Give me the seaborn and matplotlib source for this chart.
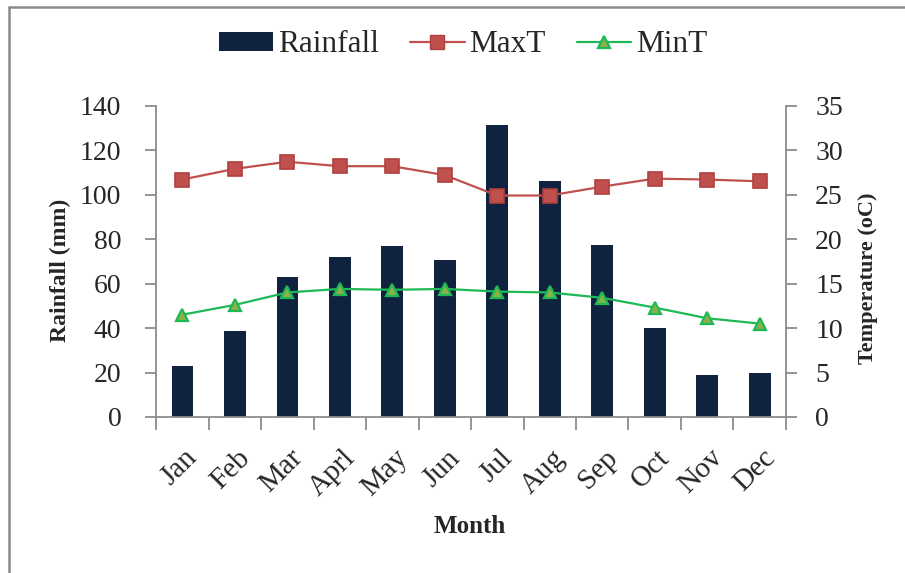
import matplotlib
matplotlib.use("Agg")
import matplotlib.pyplot as plt
import matplotlib.transforms as mtransforms
from matplotlib.patches import Patch
from matplotlib.lines import Line2D
import seaborn as sns
import pandas as pd
import numpy as np

months = ["Jan", "Feb", "Mar", "Aprl", "May", "Jun", "Jul", "Aug", "Sep", "Oct", "Nov", "Dec"]
rainfall = [22.8, 38.8, 62.8, 72.0, 77.0, 70.5, 131.3, 106.2, 77.5, 40.0, 19.0, 20.0]
max_t = [26.7, 27.9, 28.7, 28.2, 28.2, 27.2, 24.9, 24.9, 25.9, 26.8, 26.7, 26.5]
min_t = [11.5, 12.6, 14.0, 14.4, 14.3, 14.4, 14.1, 14.0, 13.4, 12.3, 11.1, 10.5]
rain_ticks = [0, 20, 40, 60, 80, 100, 120, 140]
temp_ticks = [0, 5, 10, 15, 20, 25, 30, 35]

df = pd.DataFrame({"Month": months, "Rainfall": rainfall, "MaxT": max_t, "MinT": min_t})

sns.set_theme(style="white")
plt.rcParams["font.family"] = ["Liberation Serif", "DejaVu Serif"]

BAR = "#0F2341"
RED = "#C0504D"
GREEN = "#1DB954"
OLIVE = "#8DB04A"
GRAY = "#8C8C8C"

fig = plt.figure(figsize=(9.05, 5.73), dpi=100)
ax = fig.add_axes([0.1724, 0.2723, 0.6961, 0.5432])

sns.barplot(data=df, x="Month", y="Rainfall", ax=ax, color=BAR, width=0.41,
            saturation=1, edgecolor="none", zorder=2)

ax2 = ax.twinx()
sns.pointplot(data=df, x="Month", y="MaxT", ax=ax2, color=RED, markers="s",
              linestyles="-", errorbar=None, markersize=10, linewidth=1.6,
              markeredgecolor="#B0403D")
sns.pointplot(data=df, x="Month", y="MinT", ax=ax2, color=GREEN, markers="^",
              linestyles="-", errorbar=None, markersize=9, linewidth=1.6,
              markerfacecolor=OLIVE, markeredgecolor=GREEN, markeredgewidth=1.6)

ax.set_xlim(-0.5, 11.5)
ax.set_ylim(0, 140)
ax2.set_ylim(0, 35)
ax.set_yticks(rain_ticks)
ax2.set_yticks(temp_ticks)
ax.set_yticklabels([str(t) for t in rain_ticks], fontsize=20)
ax2.set_yticklabels([str(t) for t in temp_ticks], fontsize=20)

for a in (ax, ax2):
    a.spines["top"].set_visible(False)
    for s in ("left", "right", "bottom"):
        a.spines[s].set_color(GRAY)
        a.spines[s].set_linewidth(1.3)
    a.grid(False)
ax.spines["right"].set_visible(False)
ax2.spines["left"].set_visible(False)
ax2.spines["bottom"].set_visible(False)

ax.tick_params(axis="y", direction="out", length=8, width=1.3, color=GRAY, pad=17, left=True)
ax2.tick_params(axis="y", direction="out", length=8, width=1.3, color=GRAY, pad=13, right=True)

# x ticks: labels at centers, tick marks at boundaries
ax.set_xticks(range(len(months)))
ax.set_xticklabels(months, fontsize=21, rotation=45, ha="right", rotation_mode="anchor")
ax.set_xticks(np.arange(-0.5, len(months), 1.0), minor=True)
ax.tick_params(axis="x", which="major", length=0, pad=20)
ax.tick_params(axis="x", which="minor", direction="out", length=9, width=1.3, color=GRAY, bottom=True)
ax2.tick_params(axis="x", which="both", length=0)
offset = mtransforms.ScaledTranslation(2 / 100, 0, fig.dpi_scale_trans)
for lbl in ax.get_xticklabels():
    lbl.set_transform(lbl.get_transform() + offset)

ax.set_xlabel("Month", fontsize=18, fontweight="bold")
ax.xaxis.set_label_coords(0.498, -0.353)
ax.xaxis.label.set_va("center")
ax.set_ylabel("Rainfall (mm)", fontsize=17, fontweight="bold")
ax.yaxis.set_label_coords(-0.152, 0.472)
ax.yaxis.label.set_va("center")
ax2.set_ylabel("Temperature (oC)", fontsize=16, fontweight="bold")
ax2.yaxis.set_label_coords(1.130, 0.446)
ax2.yaxis.label.set_va("center")

handles = [
    Patch(facecolor=BAR, edgecolor="none"),
    Line2D([], [], color=RED, marker="s", markersize=10, linewidth=1.6, markeredgecolor="#B0403D"),
    Line2D([], [], color=GREEN, marker="^", markersize=9, linewidth=1.6,
           markerfacecolor=OLIVE, markeredgecolor=GREEN, markeredgewidth=1.6),
]
fig.legend(handles, ["Rainfall", "MaxT", "MinT"], loc="center",
           bbox_to_anchor=(463 / 905, 1 - 45 / 573), ncol=3, frameon=False,
           fontsize=22.5, handlelength=1.74, handleheight=0.55, handletextpad=0.15,
           columnspacing=1.0, borderpad=0)

# outer frame (top and left edges visible)
fig.add_artist(Line2D([9 / 905, 1.0], [1 - 7 / 573, 1 - 7 / 573], transform=fig.transFigure,
                      color="#8A8A8A", linewidth=1.8))
fig.add_artist(Line2D([9 / 905, 9 / 905], [0, 1 - 7 / 573], transform=fig.transFigure,
                      color="#8A8A8A", linewidth=1.8))

fig.savefig("out.png", dpi=100)
